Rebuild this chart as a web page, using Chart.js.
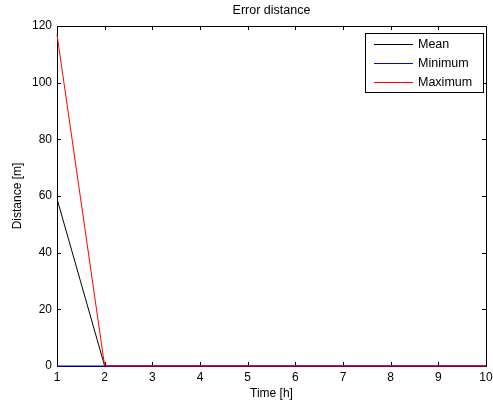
<!DOCTYPE html>
<html>
<head>
<meta charset="utf-8">
<script src="https://cdn.jsdelivr.net/npm/chart.js@4"></script>
<style>
  html, body { margin: 0; padding: 0; background: #fff; }
  #wrap { width: 493px; height: 405px; }
</style>
</head>
<body>
<div id="wrap"><canvas id="myChart" width="493" height="405"></canvas></div>
<script>
// datos
var hours = [1, 2, 3, 4, 5, 6, 7, 8, 9, 10];
var meanDist = [59, 0, 0, 0, 0, 0, 0, 0, 0, 0];
var minDist = [0, 0, 0, 0, 0, 0, 0, 0, 0, 0];
var maxDist = [117, 0, 0, 0, 0, 0, 0, 0, 0, 0];
var yTicks = [0, 20, 40, 60, 80, 100, 120];

var FONT = "'Liberation Sans', Arial, sans-serif";

function toPoints(vals) {
    return vals.map(function (v, i) { return { x: hours[i], y: v }; });
}

// caja, marcas hacia dentro, titulo y leyenda estilo matlab
var matlabBox = {
    id: "matlabBox",
    beforeDatasetsDraw: function (chart) {
        var ctx = chart.ctx;
        var a = chart.chartArea;
        var xs = chart.scales.x, ys = chart.scales.y;
        ctx.save();
        ctx.strokeStyle = "#000";
        ctx.lineWidth = 1;
        ctx.strokeRect(Math.round(a.left) + 0.5, Math.round(a.top) + 0.5,
            Math.round(a.right - a.left), Math.round(a.bottom - a.top));
        ctx.beginPath();
        hours.forEach(function (h) {
            var px = Math.round(xs.getPixelForValue(h)) + 0.5;
            ctx.moveTo(px, a.bottom); ctx.lineTo(px, a.bottom - 4);
            ctx.moveTo(px, a.top); ctx.lineTo(px, a.top + 4);
        });
        yTicks.forEach(function (t) {
            var py = Math.round(ys.getPixelForValue(t)) + 0.5;
            ctx.moveTo(a.left, py); ctx.lineTo(a.left + 4, py);
            ctx.moveTo(a.right, py); ctx.lineTo(a.right - 4, py);
        });
        ctx.stroke();

        // titulo
        ctx.fillStyle = "#000";
        ctx.font = "12.5px " + FONT;
        ctx.textAlign = "center";
        ctx.textBaseline = "middle";
        ctx.fillText("Error distance", (a.left + a.right) / 2, 11);
        ctx.restore();
    },
    afterDraw: function (chart) {
        var ctx = chart.ctx;
        ctx.save();
        // leyenda
        var lx = 365, ly = 33, lw = 118, lh = 59;
        ctx.fillStyle = "#fff";
        ctx.fillRect(lx, ly, lw, lh);
        ctx.strokeStyle = "#000";
        ctx.lineWidth = 1;
        ctx.strokeRect(lx + 0.5, ly + 0.5, lw, lh);
        ctx.font = "12.5px " + FONT;
        ctx.textBaseline = "middle";
        chart.data.datasets.forEach(function (ds, i) {
            var yy = ly + 11.5 + i * 19;
            ctx.strokeStyle = ds.borderColor;
            ctx.beginPath();
            ctx.moveTo(374, yy); ctx.lineTo(413, yy);
            ctx.stroke();
            ctx.fillStyle = "#000";
            ctx.textAlign = "left";
            ctx.fillText(ds.label, 418, yy);
        });
        ctx.restore();
    }
};

var ctx = document.getElementById("myChart").getContext("2d");
var chart = new Chart(ctx, {
    type: "line",
    data: {
        datasets: [
            { label: "Mean", data: toPoints(meanDist), borderColor: "#000000", borderWidth: 1, pointRadius: 0, tension: 0, order: 2 },
            { label: "Minimum", data: toPoints(minDist), borderColor: "#0000ff", borderWidth: 1.2, pointRadius: 0, tension: 0, clip: 2, order: 1 },
            { label: "Maximum", data: toPoints(maxDist), borderColor: "#ff0000", borderWidth: 1, pointRadius: 0, tension: 0, clip: 2, order: 0 }
        ]
    },
    options: {
        responsive: false,
        animation: false,
        layout: { padding: { top: 26, right: 0, left: 0, bottom: 0 } },
        plugins: { legend: { display: false }, title: { display: false }, tooltip: { enabled: false } },
        scales: {
            x: {
                type: "linear",
                min: 1, max: 10,
                afterBuildTicks: function (s) { s.ticks = hours.map(function (h) { return { value: h }; }); },
                grid: { display: false, drawTicks: false },
                border: { display: false },
                ticks: { color: "#000", font: { family: FONT, size: 12 }, padding: 4, maxRotation: 0, autoSkip: false },
                title: { display: true, text: "Time [h]", color: "#000", font: { family: FONT, size: 12 }, padding: { top: 0, bottom: 4 } },
                afterFit: function (s) { s.height = 39; s.paddingRight = 7; s.paddingLeft = 0; }
            },
            y: {
                min: 0, max: 120,
                afterBuildTicks: function (s) { s.ticks = yTicks.map(function (t) { return { value: t }; }); },
                grid: { display: false, drawTicks: false },
                border: { display: false },
                ticks: { color: "#000", font: { family: FONT, size: 12 }, padding: 5 },
                title: { display: true, text: "Distance [m]", color: "#000", font: { family: FONT, size: 12 }, padding: { top: 10, bottom: 0 } },
                afterFit: function (s) { s.width = 57; }
            }
        }
    },
    plugins: [matlabBox]
});
</script>
</body>
</html>
